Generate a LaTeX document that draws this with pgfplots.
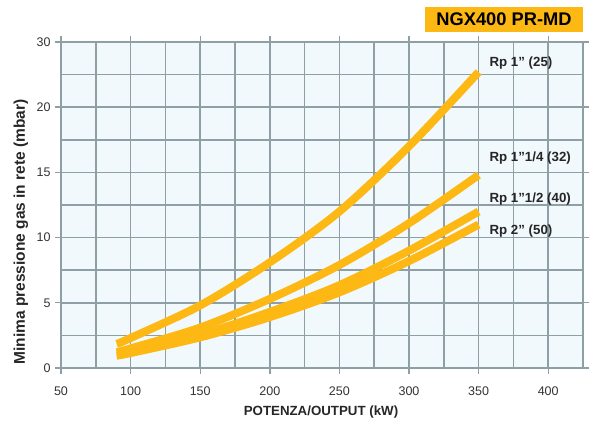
\documentclass[border=0pt]{standalone}
\usepackage{fontspec}
\setmainfont{Liberation Sans}
\usepackage{pgfplots}
\pgfplotsset{compat=1.18}
\definecolor{curve}{HTML}{FDB813}
\definecolor{gridc}{HTML}{8E9FA5}
\definecolor{plotbg}{HTML}{F2F9FD}
\begin{document}
\begin{tikzpicture}[x=1pt,y=1pt]
\useasboundingbox (0,0) rectangle (590,428);
\begin{axis}[
    at={(61pt,60pt)}, anchor=south west,
    scale only axis, width=522pt, height=326pt,
    xmin=50, xmax=425, ymin=0, ymax=25,
    xtick={50,100,...,400},
    ytick={0,5,10,15,20,25},
    yticklabels={0,5,10,15,20,30},
    minor x tick num=1, minor y tick num=1,
    grid=both,
    grid style={draw=gridc, line width=1.6pt},
    minor grid style={draw=gridc, line width=1.6pt},
    axis line style={draw=gridc, line width=2.2pt},
    tick style={draw=gridc, line width=1.4pt},
    tick align=outside, major tick length=6pt, minor tick length=0pt,
    axis background/.style={fill=plotbg},
    ticklabel style={font=\fontsize{12.5}{14}\selectfont, text=black!80},
    /pgf/number format/assume math mode=true,
    xticklabel style={yshift=-9pt},
    yticklabel style={xshift=-1pt},
    clip=false,
]
\addplot[curve, line width=8pt, smooth] coordinates {
 (90,1.84) (100,2.3) (150,4.8) (200,8.1) (250,12.0) (300,17.0) (350,22.7)};
\addplot[curve, line width=8pt, smooth] coordinates {
 (90,1.2) (100,1.5) (150,3.1) (200,5.3) (250,7.9) (300,11.1) (350,14.8)};
\addplot[curve, line width=8pt, smooth] coordinates {
 (90,1.05) (100,1.25) (150,2.55) (200,4.3) (250,6.35) (300,9.0) (350,12.0)};
\addplot[curve, line width=8pt, smooth] coordinates {
 (90,0.95) (100,1.15) (150,2.35) (200,3.9) (250,5.8) (300,8.2) (350,11.0)};
\end{axis}
\begin{scope}[every node/.style={font=\fontsize{13.3}{15}\selectfont\bfseries, text=black!85, anchor=west}]
\node at (486,365) {Rp 1” (25)};
\node at (486,270) {Rp 1”1/4 (32)};
\node at (486,229) {Rp 1”1/2 (40)};
\node at (486,197) {Rp 2” (50)};
\end{scope}
\fill[curve] (425,396) rectangle (583,421);
\node[font=\fontsize{18.3}{20}\selectfont\bfseries] at (504,408.5) {NGX400 PR-MD};
\node[font=\fontsize{13.3}{15}\selectfont\bfseries, text=black!85] at (321,16) {POTENZA/OUTPUT (kW)};
\node[font=\fontsize{15.5}{17}\selectfont\bfseries, text=black!85, rotate=90] at (21,196) {Minima pressione gas in rete (mbar)};
\end{tikzpicture}
\end{document}
